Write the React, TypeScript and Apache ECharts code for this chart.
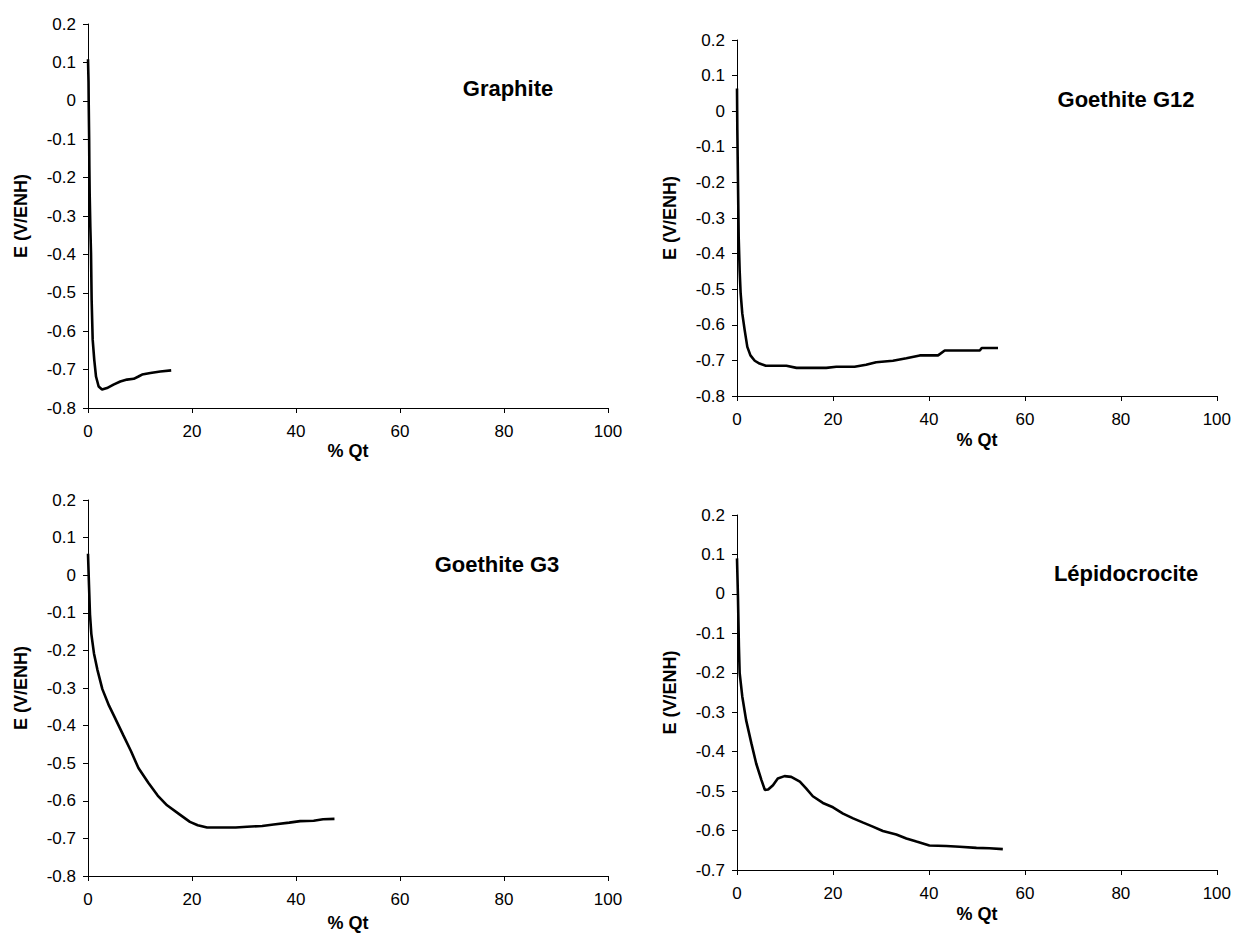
import React, { useEffect, useRef } from "react";
import * as echarts from "echarts";

// Graphite
const graphiteQt = [0, 0.1, 0.13, 0.22, 0.26, 0.32, 0.45, 0.58, 0.7, 0.9, 1.2, 1.54, 2.05, 2.7, 3.65, 4.9, 6.2, 7.5, 8.8, 9.7, 10.4, 12, 13.9, 16];
const graphiteE = [0.108, 0.05, 0.002, -0.1, -0.171, -0.24, -0.33, -0.397, -0.518, -0.622, -0.674, -0.718, -0.744, -0.752, -0.748, -0.739, -0.731, -0.726, -0.724, -0.718, -0.713, -0.709, -0.705, -0.702];

// Goethite G12
const g12Qt = [0, 0.07, 0.2, 0.35, 0.55, 0.76, 1.1, 1.6, 2.15, 2.8, 3.7, 4.7, 6.0, 10.3, 12.4, 18.6, 20.7, 24.5, 26.9, 29.0, 32.5, 35.3, 38.1, 41.9, 43.3, 50.6, 51.0, 54.4];
const g12E = [0.064, -0.053, -0.194, -0.353, -0.447, -0.512, -0.568, -0.615, -0.662, -0.686, -0.701, -0.709, -0.715, -0.715, -0.721, -0.721, -0.718, -0.718, -0.712, -0.705, -0.701, -0.694, -0.686, -0.686, -0.672, -0.672, -0.665, -0.665];

// Goethite G3
const g3Qt = [0, 0.19, 0.38, 0.64, 1.15, 1.8, 2.76, 4.04, 5.0, 6.8, 8.3, 9.7, 11.6, 13.4, 15.2, 17.4, 19.6, 21.1, 22.9, 28.4, 30.6, 33.5, 35.7, 38.7, 40.8, 43.4, 45.2, 47.4];
const g3E = [0.057, -0.026, -0.104, -0.156, -0.208, -0.251, -0.303, -0.347, -0.374, -0.426, -0.469, -0.513, -0.552, -0.586, -0.612, -0.634, -0.656, -0.665, -0.671, -0.671, -0.669, -0.667, -0.663, -0.658, -0.654, -0.653, -0.649, -0.648];

// Lépidocrocite
const lepQt = [0, 0.2, 0.4, 0.55, 1.1, 1.9, 3.0, 4.0, 5.1, 5.8, 6.5, 7.5, 8.5, 9.9, 11.3, 13.1, 14.4, 15.8, 17.9, 20, 22.1, 24.2, 26.3, 28.3, 30.4, 33.2, 35.3, 37.4, 40.1, 43.6, 46.4, 49.9, 52.6, 55.4];
const lepE = [0.09, -0.007, -0.134, -0.2, -0.26, -0.32, -0.379, -0.43, -0.472, -0.497, -0.496, -0.485, -0.468, -0.462, -0.464, -0.476, -0.493, -0.513, -0.53, -0.541, -0.557, -0.569, -0.58, -0.59, -0.601, -0.61, -0.62, -0.628, -0.638, -0.639, -0.641, -0.644, -0.645, -0.647];

const titles = ["Graphite", "Goethite G12", "Goethite G3", "Lépidocrocite"];
const xName = "% Qt";
const yName = "E (V/ENH)";
const yMins = [-0.8, -0.8, -0.8, -0.7];

const FONT = '"Liberation Sans", Arial, sans-serif';

export default function App() {
  const ref = useRef<HTMLDivElement>(null);
  useEffect(() => {
    document.body.style.margin = "0";
    const chart = echarts.init(ref.current!, null, { renderer: "svg" });
    const grids = [
      { left: 88, top: 24, width: 520, height: 384 },
      { left: 737, top: 40, width: 483, height: 356 },
      { left: 88, top: 500, width: 520, height: 384 },
      { left: 737, top: 515, width: 483, height: 355 },
    ];
    const datasets = [
      graphiteQt.map((q, i) => [q, graphiteE[i]]),
      g12Qt.map((q, i) => [q, g12E[i]]),
      g3Qt.map((q, i) => [q, g3E[i]]),
      lepQt.map((q, i) => [q, lepE[i]]),
    ];
    const xNameGaps = [34, 35, 38, 35];
    const axisLine = { onZero: false, lineStyle: { color: "#000", width: 1 } };
    const axisTick = { inside: false, length: 5, lineStyle: { color: "#000" } };
    const labelStyle = { color: "#000", fontFamily: FONT, fontSize: 17 };
    const titlePos = [
      [508, 88],
      [1126, 99],
      [497, 564],
      [1126, 573],
    ];
    chart.setOption({
      animation: false,
      grid: grids.map((g) => ({ ...g, containLabel: false })),
      xAxis: grids.map((_, i) => ({
        type: "value",
        gridIndex: i,
        min: 0,
        max: 100,
        interval: 20,
        axisLine: { show: true, ...axisLine },
        axisTick: { show: true, ...axisTick },
        splitLine: { show: false },
        axisLabel: { ...labelStyle, margin: 15 },
        name: xName,
        nameLocation: "middle",
        nameGap: xNameGaps[i],
        nameTextStyle: { color: "#000", fontFamily: FONT, fontSize: 18, fontWeight: "bold" },
      })),
      yAxis: grids.map((_, i) => ({
        type: "value",
        gridIndex: i,
        min: yMins[i],
        max: 0.2,
        interval: 0.1,
        axisLine: { show: true, ...axisLine },
        axisTick: { show: true, ...axisTick },
        splitLine: { show: false },
        axisLabel: {
          ...labelStyle,
          margin: 12,
          formatter: (v: number) => {
            const r = Math.round(v * 10) / 10;
            return r === 0 ? "0" : String(r);
          },
        },
        name: yName,
        nameLocation: "middle",
        nameRotate: 90,
        nameGap: 58,
        nameTextStyle: { color: "#000", fontFamily: FONT, fontSize: 18, fontWeight: "bold" },
      })),
      series: datasets.map((d, i) => ({
        type: "line",
        xAxisIndex: i,
        yAxisIndex: i,
        data: d,
        showSymbol: false,
        symbol: "none",
        lineStyle: { color: "#000", width: 2.6 },
        smooth: false,
      })),
      graphic: titles.map((t, i) => ({
        type: "text",
        x: titlePos[i][0],
        y: titlePos[i][1],
        style: {
          text: t,
          fill: "#000",
          font: `bold 22px ${FONT}`,
          align: "center",
          verticalAlign: "middle",
          textAlign: "center",
          textVerticalAlign: "middle",
        },
      })),
    });
    return () => chart.dispose();
  }, []);
  return <div ref={ref} style={{ width: 1234, height: 933 }} />;
}
